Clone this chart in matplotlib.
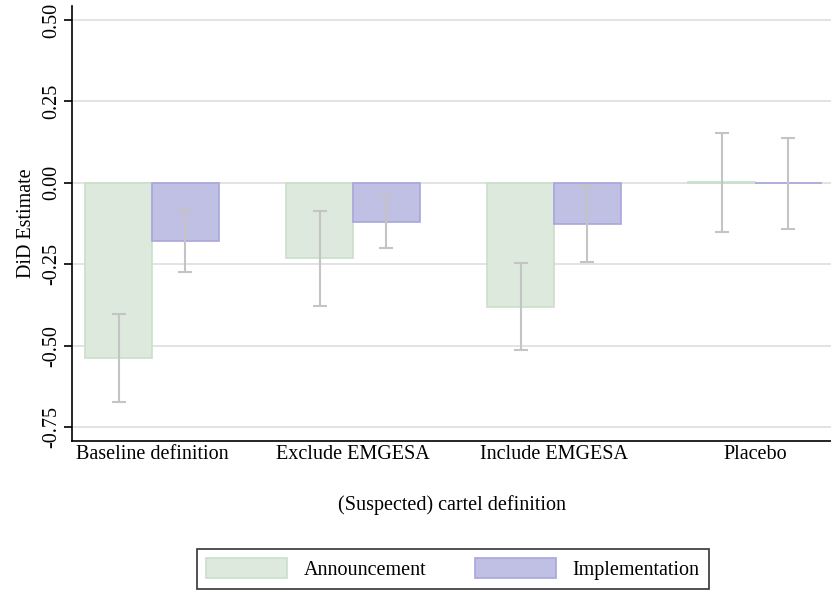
import matplotlib.pyplot as plt
import numpy as np

# DiD estimates by cartel definition
groups = ["Baseline definition", "Exclude EMGESA", "Include EMGESA", "Placebo"]
announce = [-0.537, -0.231, -0.380, 0.001]
announce_lo = [-0.674, -0.377, -0.515, -0.150]
announce_hi = [-0.402, -0.086, -0.245, 0.153]
implement = [-0.178, -0.120, -0.126, -0.002]
implement_lo = [-0.275, -0.200, -0.242, -0.141]
implement_hi = [-0.083, -0.040, -0.010, 0.138]
yticks = [0.50, 0.25, 0.00, -0.25, -0.50, -0.75]

plt.rcParams['font.family'] = ['Liberation Serif', 'DejaVu Serif']
fs = 14.5

fig = plt.figure(figsize=(8.31, 5.91), dpi=100)
ax = fig.add_axes([72 / 831, 1 - 441 / 591, 759 / 831, 435 / 591])

x = np.arange(len(groups))
w = 0.332

ann_c, ann_e = "#dce9dc", "#c9dfc9"
imp_c, imp_e = "#c0bfe4", "#a8a5dc"

ax.bar(x - w / 2, announce, w, color=ann_c, edgecolor=ann_e, linewidth=1.2,
       label="Announcement", zorder=2)
ax.bar(x + w / 2, implement, w, color=imp_c, edgecolor=imp_e, linewidth=1.2,
       label="Implementation", zorder=2)

a = np.array(announce)
i = np.array(implement)
ax.errorbar(x - w / 2, a, yerr=[a - np.array(announce_lo), np.array(announce_hi) - a],
            fmt="none", ecolor="#c4c4c4", elinewidth=1.5, capsize=5, capthick=1.5, zorder=3)
ax.errorbar(x + w / 2, i, yerr=[i - np.array(implement_lo), np.array(implement_hi) - i],
            fmt="none", ecolor="#c4c4c4", elinewidth=1.5, capsize=5, capthick=1.5, zorder=3)

ax.set_xlim(-0.398, 3.378)
ax.set_ylim(-0.793, 0.543)
ax.set_yticks(yticks)
ax.set_yticklabels([f"{t:.2f}" for t in yticks], rotation=90, va="center", fontsize=fs)
ax.set_xticks(x)
ax.set_xticklabels(groups, fontsize=fs)
ax.tick_params(axis="x", length=0, pad=3)
ax.tick_params(axis="y", length=6, width=1.2, pad=2)
ax.yaxis.grid(True, color="#e0e0e0", linewidth=1.3, zorder=0)
ax.set_axisbelow(True)

for s in ["top", "right"]:
    ax.spines[s].set_visible(False)
for s in ["left", "bottom"]:
    ax.spines[s].set_linewidth(1.2)

ax.set_ylabel("DiD Estimate", fontsize=fs, labelpad=4)
ax.set_xlabel("(Suspected) cartel definition", fontsize=fs, labelpad=22)

leg = fig.legend(loc="lower center", bbox_to_anchor=(453 / 831, 0.0), ncol=2, fontsize=fs,
                 frameon=True, fancybox=False, edgecolor="black", handlelength=4.0,
                 handleheight=1.1, columnspacing=2.4, handletextpad=0.85, borderpad=0.45,
                 borderaxespad=0.1)
leg.get_frame().set_linewidth(1.2)

fig.savefig("out.png", dpi=100)
